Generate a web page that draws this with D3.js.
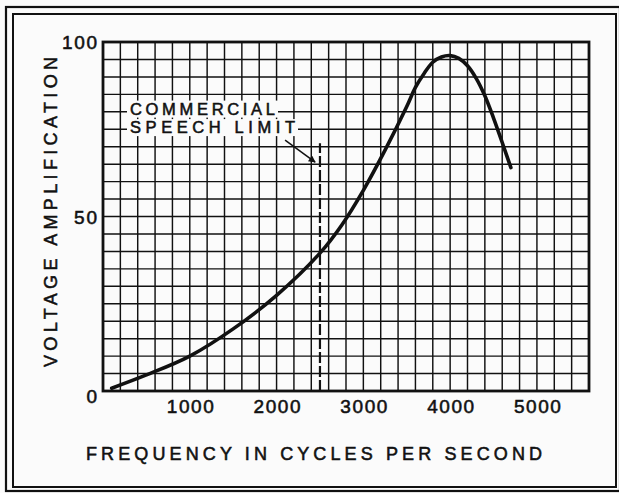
<!DOCTYPE html>
<html>
<head>
<meta charset="utf-8">
<script src="https://cdn.jsdelivr.net/npm/d3@7"></script>
<style>
  html, body { margin: 0; padding: 0; background: #fbfbfb; }
  svg { display: block; }
  text { font-family: "Liberation Sans", Arial, Helvetica, sans-serif; fill: #111; stroke: #111; stroke-width: 0.55px; }
</style>
</head>
<body>
<svg id="chart" width="619" height="493"></svg>
<script>
// ---- data ----
const frequency = [100, 500, 1000, 1500, 2000, 2500, 2750, 3000, 3250, 3500, 3600, 3700, 3800, 3900, 4000, 4100, 4200, 4300, 4400, 4500, 4600, 4700];
const amplification = [0.8, 4.6, 10, 17.8, 27.4, 39.5, 47.5, 57.5, 69, 81.5, 87, 91, 94.2, 95.7, 96.1, 95.3, 93.2, 89.6, 84.6, 78.2, 71.2, 64];
const xTicks = [1000, 2000, 3000, 4000, 5000];
const yTicks = [0, 50, 100];
const xGrid = d3.range(0, 5601, 200);
const yGrid = d3.range(0, 101, 5);
const speechLimit = 2500;
const speechLimitTop = 71;
const annotationLines = ["COMMERCIAL", "SPEECH LIMIT"];
const xTitle = "FREQUENCY IN CYCLES PER SECOND";
const yTitle = "VOLTAGE AMPLIFICATION";

// ---- layout ----
const svg = d3.select("#chart");
const x = d3.scaleLinear().domain([0, 5600]).range([103, 589]);
const y = d3.scaleLinear().domain([0, 100]).range([391, 42]);

// frame (double border)
svg.append("rect").attr("x", 6).attr("y", 7).attr("width", 614).attr("height", 484)
  .attr("fill", "none").attr("stroke", "#111").attr("stroke-width", 2.2);
svg.append("rect").attr("x", 13).attr("y", 14).attr("width", 603).attr("height", 473)
  .attr("fill", "none").attr("stroke", "#111").attr("stroke-width", 2);

// grid
const grid = svg.append("g").attr("stroke", "#111").attr("stroke-width", 1.45);
grid.selectAll("line.v").data(xGrid).join("line").attr("class", "v")
  .attr("x1", d => x(d)).attr("x2", d => x(d)).attr("y1", y(0)).attr("y2", y(100));
grid.selectAll("line.h").data(yGrid).join("line").attr("class", "h")
  .attr("y1", d => y(d)).attr("y2", d => y(d)).attr("x1", x(0)).attr("x2", x(5600));

// plot border
svg.append("rect").attr("x", x(0)).attr("y", y(100))
  .attr("width", x(5600) - x(0)).attr("height", y(0) - y(100))
  .attr("fill", "none").attr("stroke", "#111").attr("stroke-width", 2.8);

// axes
const xAxis = svg.append("g").attr("transform", `translate(0,${y(0)})`)
  .call(d3.axisBottom(x).tickValues(xTicks).tickSize(0).tickPadding(9).tickFormat(d3.format("d")));
xAxis.select(".domain").remove();
xAxis.selectAll("text").attr("font-size", 19).attr("fill", "#111")
  .attr("textLength", 47).attr("lengthAdjust", "spacing")
  .style("font-family", "'Liberation Sans', Arial, sans-serif");

const yAxis = svg.append("g").attr("transform", `translate(${x(0)},0)`)
  .call(d3.axisLeft(y).tickValues(yTicks).tickSize(0).tickPadding(6).tickFormat(d3.format("d")));
yAxis.select(".domain").remove();
yAxis.selectAll("text").attr("font-size", 19).attr("fill", "#111")
  .attr("dy", d => d === 0 ? "0.62em" : "0.36em")
  .style("font-family", "'Liberation Sans', Arial, sans-serif");
yAxis.selectAll("text").filter(d => d === 100).attr("textLength", 35).attr("lengthAdjust", "spacing");
yAxis.selectAll("text").filter(d => d === 50).attr("textLength", 23).attr("lengthAdjust", "spacing");

// titles
svg.append("text").attr("x", 86).attr("y", 460).attr("font-size", 18)
  .attr("textLength", 456).attr("lengthAdjust", "spacing").text(xTitle);
svg.append("text").attr("transform", "translate(57,367) rotate(-90)").attr("font-size", 18)
  .attr("textLength", 310).attr("lengthAdjust", "spacing").text(yTitle);

// speech limit dashed line
svg.append("line")
  .attr("x1", x(speechLimit)).attr("x2", x(speechLimit))
  .attr("y1", y(0)).attr("y2", y(speechLimitTop))
  .attr("stroke", "#111").attr("stroke-width", 2.2).attr("stroke-dasharray", "11,3");

// annotation text with white background
const annX = x(311);
const annY = [y(79.2), y(73.9)];
const annLen = [145, 165];
const ann = svg.append("g");
annotationLines.forEach((t, i) => {
  const txt = ann.append("text").attr("x", annX).attr("y", annY[i]).attr("font-size", 16.5)
    .attr("textLength", annLen[i]).attr("lengthAdjust", "spacing").text(t);
  const bb = txt.node().getBBox();
  ann.insert("rect", "text").attr("x", bb.x - 3).attr("y", bb.y + 1)
    .attr("width", bb.width + 6).attr("height", bb.height - 1).attr("fill", "#fbfbfb");
});

// arrow
svg.append("defs").append("marker").attr("id", "ah").attr("viewBox", "0 0 10 10")
  .attr("refX", 9).attr("refY", 5).attr("markerWidth", 10).attr("markerHeight", 7)
  .attr("markerUnits", "userSpaceOnUse").attr("orient", "auto")
  .append("path").attr("d", "M0,0 L10,5 L0,10 Z").attr("fill", "#111");
svg.append("line")
  .attr("x1", x(2098)).attr("y1", y(71.9)).attr("x2", x(2444)).attr("y2", y(65.6))
  .attr("stroke", "#111").attr("stroke-width", 1.5).attr("marker-end", "url(#ah)");

// curve
const pts = frequency.map((f, i) => [f, amplification[i]]);
svg.append("path").datum(pts)
  .attr("fill", "none").attr("stroke", "#111").attr("stroke-width", 3.6)
  .attr("stroke-linecap", "round")
  .attr("d", d3.line().x(d => x(d[0])).y(d => y(d[1])).curve(d3.curveCatmullRom.alpha(0.5)));
</script>
</body>
</html>
